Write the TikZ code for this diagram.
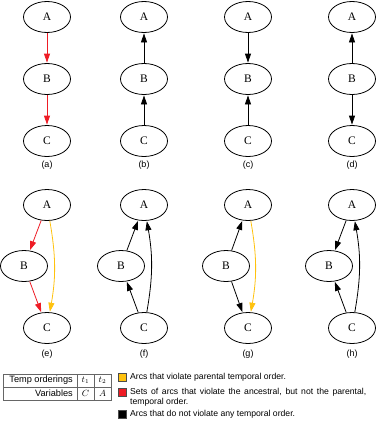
\documentclass[tikz,border=0pt]{standalone}
\usepackage{fontspec}
\setmainfont{Liberation Serif}
\setsansfont{Liberation Sans}
\usetikzlibrary{shapes.geometric,arrows.meta}
\definecolor{arcred}{HTML}{EE1C25}
\definecolor{arcyel}{HTML}{FFC20E}
\tikzset{
  vnode/.style={draw,ellipse,line width=0.8pt,minimum width=47pt,minimum height=31pt,inner sep=0pt,font=\fontsize{11.5}{12}\selectfont},
  edgearc/.style={line width=0.8pt,-{Triangle[length=9pt,width=6pt]},shorten >=0.5pt},
  redarc/.style={edgearc,draw=arcred},
  yelarc/.style={edgearc,draw=arcyel},
  blkarc/.style={edgearc,draw=black},
  sublabel/.style={font=\sffamily\fontsize{9}{10}\selectfont},
  legtxt/.style={font=\sffamily\fontsize{8.65}{10}\selectfont,anchor=west,inner sep=0pt},
  legbox/.style={draw=black!70,line width=0.5pt,minimum size=8pt,inner sep=0pt},
  tbltxt/.style={font=\sffamily\fontsize{9.2}{10}\selectfont,inner sep=0pt},
  tblline/.style={line width=0.5pt,black!60},
}
\begin{document}
\begin{tikzpicture}[x=1pt,y=-1pt]
\useasboundingbox (0,0) rectangle (379,423);
% (a)
\node[vnode] (aA) at (47,17) {A};
\node[vnode] (aB) at (47,79) {B};
\node[vnode] (aC) at (47,141) {C};
\node[sublabel] (la) at (47,165) {(a)};
\draw[redarc] (aA) -- (aB);
\draw[redarc] (aB) -- (aC);
% (b)
\node[vnode] (bA) at (144,17) {A};
\node[vnode] (bB) at (144,79) {B};
\node[vnode] (bC) at (144,141) {C};
\node[sublabel] (lb) at (144,165) {(b)};
\draw[blkarc] (bC) -- (bB);
\draw[blkarc] (bB) -- (bA);
% (c)
\node[vnode] (cA) at (248,17) {A};
\node[vnode] (cB) at (248,79) {B};
\node[vnode] (cC) at (248,141) {C};
\node[sublabel] (lc) at (248,165) {(c)};
\draw[blkarc] (cA) -- (cB);
\draw[blkarc] (cC) -- (cB);
% (d)
\node[vnode] (dA) at (352,17) {A};
\node[vnode] (dB) at (352,79) {B};
\node[vnode] (dC) at (352,141) {C};
\node[sublabel] (ld) at (352,165) {(d)};
\draw[blkarc] (dB) -- (dA);
\draw[blkarc] (dB) -- (dC);
% (e)
\node[vnode] (eA) at (47,205) {A};
\node[vnode] (eB) at (24,266) {B};
\node[vnode] (eC) at (47,328) {C};
\node[sublabel] (le) at (47,354) {(e)};
\draw[redarc] (eA) -- (eB);
\draw[redarc] (eB) -- (eC);
\draw[yelarc] (eA) to[bend left=10] (eC);
% (f)
\node[vnode] (fA) at (144,205) {A};
\node[vnode] (fB) at (121,266) {B};
\node[vnode] (fC) at (144,328) {C};
\node[sublabel] (lf) at (144,354) {(f)};
\draw[blkarc] (fB) -- (fA);
\draw[blkarc] (fC) -- (fB);
\draw[blkarc] (fC) to[bend right=10] (fA);
% (g)
\node[vnode] (gA) at (248,205) {A};
\node[vnode] (gB) at (226,266) {B};
\node[vnode] (gC) at (248,328) {C};
\node[sublabel] (lg) at (248,354) {(g)};
\draw[blkarc] (gB) -- (gA);
\draw[blkarc] (gB) -- (gC);
\draw[yelarc] (gA) to[bend left=10] (gC);
% (h)
\node[vnode] (hA) at (352,205) {A};
\node[vnode] (hB) at (329,266) {B};
\node[vnode] (hC) at (352,328) {C};
\node[sublabel] (lh) at (352,354) {(h)};
\draw[blkarc] (hA) -- (hB);
\draw[blkarc] (hC) -- (hB);
\draw[blkarc] (hC) to[bend right=10] (hA);
% table
\draw[tblline] (3.3,374) rectangle (111,400);
\draw[tblline] (3.3,387) -- (111,387);
\draw[tblline] (77.3,374) -- (77.3,400);
\draw[tblline] (94,374) -- (94,400);
\node[tbltxt,anchor=east] (t11) at (73,380.5) {Temp orderings};
\node[tbltxt,anchor=east] (t21) at (73,393.5) {Variables};
\node[tbltxt] (t12) at (85.5,380.5) {$t_1$};
\node[tbltxt] (t13) at (102.5,380.5) {$t_2$};
\node[tbltxt] (t22) at (85.5,393.5) {$C$};
\node[tbltxt] (t23) at (102.5,393.5) {$A$};
% legend
\node[legbox,fill=arcyel] (k1) at (122,377) {};
\node[legtxt] (k1t) at (130,377) {Arcs that violate parental temporal order.};
\node[legbox,fill=arcred] (k2) at (122,392) {};
\node[legtxt] (k2t) at (130,392) {\makebox[236pt][s]{Sets of arcs that violate the ancestral, but not the parental,}};
\node[legtxt] (k2u) at (130,402) {temporal order.};
\node[legbox,fill=black] (k3) at (122,414) {};
\node[legtxt] (k3t) at (130,414) {Arcs that do not violate any temporal order.};
\end{tikzpicture}
\end{document}
